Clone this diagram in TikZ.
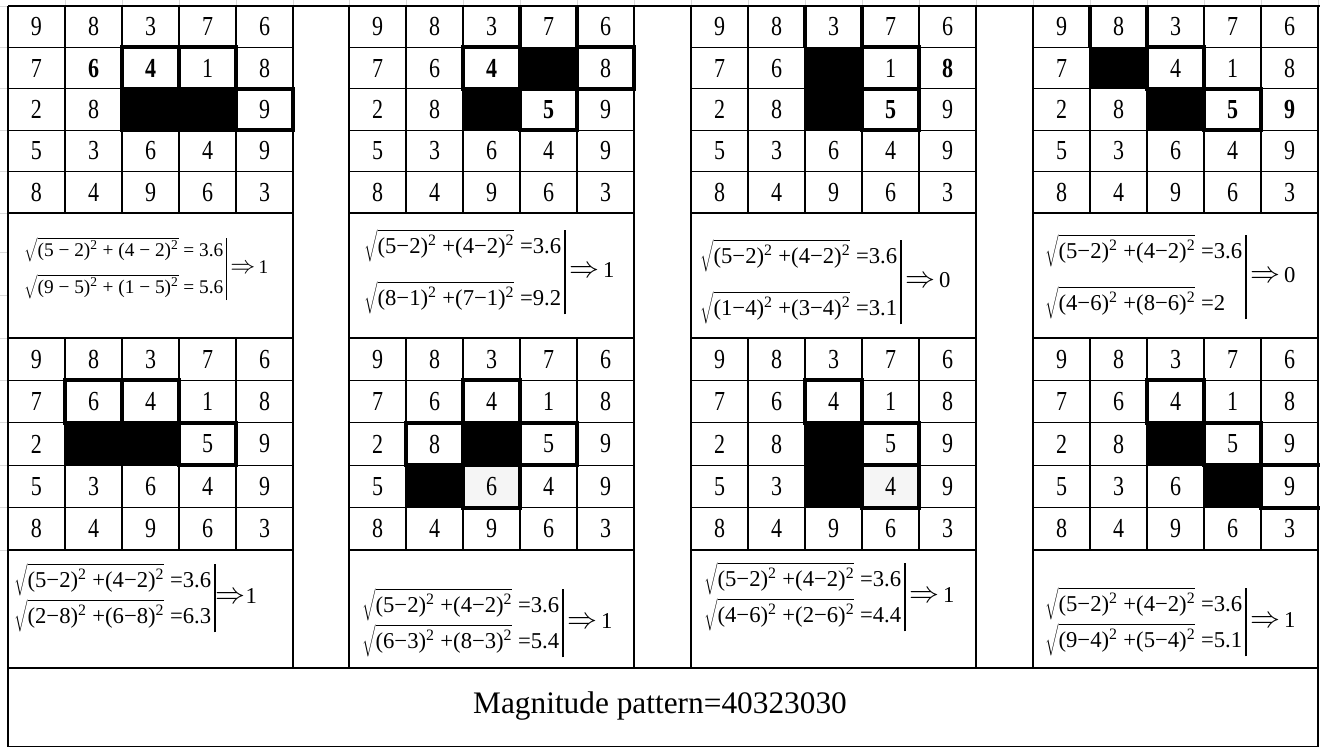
\documentclass[tikz,border=0pt]{standalone}
\usepackage{fontspec}
\setmainfont{Liberation Serif}
\usepackage{graphicx}
\setlength\arrayrulewidth{1pt}
\newcommand\bd[1]{\textbf{#1}}
\newcommand\sq[4]{\ensuremath{\sqrt{\hbox{(#1−#2)\textsuperscript{2} +(#3−#4)\textsuperscript{2}}}}}
\newcommand\sqs[4]{\ensuremath{\sqrt{\hbox{(#1 − #2)\textsuperscript{2} + (#3 − #4)\textsuperscript{2}}}}}
\newcommand\imp{\scalebox{1.3}{$\Rightarrow$}}
\tikzset{
  thinline/.style={line width=1pt, black},
  thickline/.style={line width=3pt, black},
  cellnum/.style={font=\fontsize{16.5}{18}\selectfont, inner sep=0pt},
  formula/.style={font=\fontsize{17}{20}\selectfont, anchor=west, inner sep=0pt},
  faint/.style={line width=0.6pt, black!15},
  blackcell/.style={fill=black},
  markcell/.style={draw=black, line width=3pt},
  greycell/.style={fill=black!4},
}
% #1 name, #2 x0, #3 y0, #4 row height, #5 rows
\newcommand\panelgrid[5]{%
  \foreach \k in {0,...,5}{
    \draw[thinline] ({#2+57*\k},#3) -- ({#2+57*\k},{#3+5*#4});
    \draw[thinline] (#2,{#3+\k*#4}) -- ({#2+285},{#3+\k*#4});
  }
  \foreach \row [count=\i] in {#5}{
    \foreach \v [count=\j] in \row {
      \node[cellnum] (#1-\i-\j) at ({#2+57*(\j-0.5)},{#3+#4*(\i-0.5)}) {\scalebox{1}[1.25]{\v}};
    }
  }%
}
% #1 x0, #2 y0, #3 h, #4 row, #5 col, #6 style
\newcommand\cellpath[6]{%
  \path[#6] ({#1+57*(#5-1)},{#2+#3*(#4-1)}) rectangle ++(57,#3);%
}
% vertical thick sides of a cell: #1 x0 #2 y0 #3 h #4 row #5 col
\newcommand\cellsides[5]{%
  \draw[thickline] ({#1+57*(#5-1)},{#2+#3*(#4-1)}) -- ++(0,#3);
  \draw[thickline] ({#1+57*#5},{#2+#3*(#4-1)}) -- ++(0,#3);%
}
\begin{document}
\begin{tikzpicture}[x=0.75pt,y=-0.75pt]
\useasboundingbox (0,0) rectangle (1320,747);
\fill[white] (0,0) rectangle (1320,747);

% faint spreadsheet gridlines in the margins
\foreach \yy in {6,47.4,88.8,130.2,171.6,213,252,295,338,380.4,422.8,465.2,507.6,550}
  \draw[faint] (0,\yy) -- (8,\yy);
\foreach \xx in {65,122,179,236,293,349,406,463,520,577,634,691,748,805,862,919,976,1033,1090,1147,1204,1261,1318}
  \draw[faint] (\xx,0) -- (\xx,6);

% light grey cells (drawn first)
\cellpath{349}{338}{42.4}{4}{3}{greycell}
\cellpath{691}{338}{42.4}{4}{4}{greycell}

% top line
\draw[thinline] (8,6) -- (1320,6);

% ---------- upper panels ----------
\panelgrid{pa}{8}{6}{41.4}{{9,8,3,7,6},{7,\bd6,\bd4,1,8},{2,8,{},{},9},{5,3,6,4,9},{8,4,9,6,3}}
\panelgrid{pb}{349}{6}{41.4}{{9,8,3,7,6},{7,6,\bd4,{},8},{2,8,{},\bd5,9},{5,3,6,4,9},{8,4,9,6,3}}
\panelgrid{pc}{691}{6}{41.4}{{9,8,3,7,6},{7,6,{},1,\bd8},{2,8,{},\bd5,9},{5,3,6,4,9},{8,4,9,6,3}}
\panelgrid{pd}{1033}{6}{41.4}{{9,8,3,7,6},{7,{},4,1,8},{2,8,{},\bd5,\bd9},{5,3,6,4,9},{8,4,9,6,3}}

% ---------- lower panels ----------
\panelgrid{pe}{8}{338}{42.4}{{9,8,3,7,6},{7,6,4,1,8},{2,{},{},5,9},{5,3,6,4,9},{8,4,9,6,3}}
\panelgrid{pf}{349}{338}{42.4}{{9,8,3,7,6},{7,6,4,1,8},{2,8,{},5,9},{5,{},6,4,9},{8,4,9,6,3}}
\panelgrid{pg}{691}{338}{42.4}{{9,8,3,7,6},{7,6,4,1,8},{2,8,{},5,9},{5,3,{},4,9},{8,4,9,6,3}}
\panelgrid{ph}{1033}{338}{42.4}{{9,8,3,7,6},{7,6,4,1,8},{2,8,{},5,9},{5,3,6,{},9},{8,4,9,6,3}}

% black cells
\cellpath{8}{6}{41.4}{3}{3}{blackcell}
\cellpath{8}{6}{41.4}{3}{4}{blackcell}
\cellpath{349}{6}{41.4}{2}{4}{blackcell}
\cellpath{349}{6}{41.4}{3}{3}{blackcell}
\cellpath{691}{6}{41.4}{2}{3}{blackcell}
\cellpath{691}{6}{41.4}{3}{3}{blackcell}
\cellpath{1033}{6}{41.4}{2}{2}{blackcell}
\cellpath{1033}{6}{41.4}{3}{3}{blackcell}
\cellpath{8}{338}{42.4}{3}{2}{blackcell}
\cellpath{8}{338}{42.4}{3}{3}{blackcell}
\cellpath{349}{338}{42.4}{3}{3}{blackcell}
\cellpath{349}{338}{42.4}{4}{2}{blackcell}
\cellpath{691}{338}{42.4}{3}{3}{blackcell}
\cellpath{691}{338}{42.4}{4}{3}{blackcell}
\cellpath{1033}{338}{42.4}{3}{3}{blackcell}
\cellpath{1033}{338}{42.4}{4}{4}{blackcell}

% thick-bordered cells
\cellpath{8}{6}{41.4}{2}{3}{markcell}
\cellpath{8}{6}{41.4}{2}{4}{markcell}
\cellpath{8}{6}{41.4}{3}{5}{markcell}
\cellpath{8}{6}{41.4}{3}{3}{markcell}
\cellpath{8}{6}{41.4}{3}{4}{markcell}

\cellsides{349}{6}{41.4}{1}{4}
\cellpath{349}{6}{41.4}{2}{3}{markcell}
\cellpath{349}{6}{41.4}{2}{5}{markcell}
\cellpath{349}{6}{41.4}{3}{4}{markcell}

\cellsides{691}{6}{41.4}{1}{3}
\cellpath{691}{6}{41.4}{2}{4}{markcell}
\cellpath{691}{6}{41.4}{3}{4}{markcell}

\cellsides{1033}{6}{41.4}{1}{2}
\cellpath{1033}{6}{41.4}{2}{3}{markcell}
\cellpath{1033}{6}{41.4}{3}{4}{markcell}

\cellpath{8}{338}{42.4}{2}{2}{markcell}
\cellpath{8}{338}{42.4}{2}{3}{markcell}
\cellpath{8}{338}{42.4}{3}{4}{markcell}

\cellpath{349}{338}{42.4}{2}{3}{markcell}
\cellpath{349}{338}{42.4}{3}{2}{markcell}
\cellpath{349}{338}{42.4}{3}{4}{markcell}
\cellpath{349}{338}{42.4}{4}{3}{markcell}

\cellpath{691}{338}{42.4}{2}{3}{markcell}
\cellpath{691}{338}{42.4}{3}{4}{markcell}
\cellpath{691}{338}{42.4}{4}{4}{markcell}

\cellpath{1033}{338}{42.4}{2}{3}{markcell}
\cellpath{1033}{338}{42.4}{3}{4}{markcell}
\draw[thickline] (1261,465.2) rectangle (1330,507.6);

% formula cells
\foreach \xx in {8,349,691,1033}{
  \draw[thinline] (\xx,213) -- (\xx,338);
  \draw[thinline] ({\xx+285},213) -- ({\xx+285},338);
  \draw[thinline] (\xx,550) -- (\xx,668);
  \draw[thinline] ({\xx+285},550) -- ({\xx+285},668);
}

% formulas
\node[formula, font=\fontsize{14.5}{17}\selectfont] (fa) at (24,269) {\begin{tabular}{@{}l@{\,}|@{}}\sqs{5}{2}{4}{2} = 3.6\\[8pt] \sqs{9}{5}{1}{5} = 5.6\end{tabular}\,\imp\,1};
\node[formula] (fb) at (364,272) {\begin{tabular}{@{}l@{\,}|@{}}\sq{5}{2}{4}{2} =3.6\\[15pt] \sq{8}{1}{7}{1} =9.2\end{tabular}\,\imp\,1};
\node[formula] (fc) at (700,282) {\begin{tabular}{@{}l@{\,}|@{}}\sq{5}{2}{4}{2} =3.6\\[15pt] \sq{1}{4}{3}{4} =3.1\end{tabular}\,\imp\,0};
\node[formula] (fd) at (1045,277) {\begin{tabular}{@{}l@{\,}|@{}}\sq{5}{2}{4}{2} =3.6\\[15pt] \sq{4}{6}{8}{6} =2\end{tabular}\,\imp\,0};
\node[formula] (fe) at (14,598) {\begin{tabular}{@{}l@{\,}|@{}}\sq{5}{2}{4}{2} =3.6\\[3pt] \sq{2}{8}{6}{8} =6.3\end{tabular}\imp1};
\node[formula] (ff) at (362,623) {\begin{tabular}{@{}l@{\,}|@{}}\sq{5}{2}{4}{2} =3.6\\[3pt] \sq{6}{3}{8}{3} =5.4\end{tabular}\,\imp\,1};
\node[formula] (fg) at (704,597) {\begin{tabular}{@{}l@{\,}|@{}}\sq{5}{2}{4}{2} =3.6\\[3pt] \sq{4}{6}{2}{6} =4.4\end{tabular}\,\imp\,1};
\node[formula] (fh) at (1045,622) {\begin{tabular}{@{}l@{\,}|@{}}\sq{5}{2}{4}{2} =3.6\\[3pt] \sq{9}{4}{5}{4} =5.1\end{tabular}\,\imp\,1};

% bottom cell
\draw[thinline] (8,668) rectangle (1318,746.5);
\node[font=\fontsize{23.5}{26}\selectfont, inner sep=0pt] (mag) at (660,706) {Magnitude pattern=40323030};
\end{tikzpicture}
\end{document}
